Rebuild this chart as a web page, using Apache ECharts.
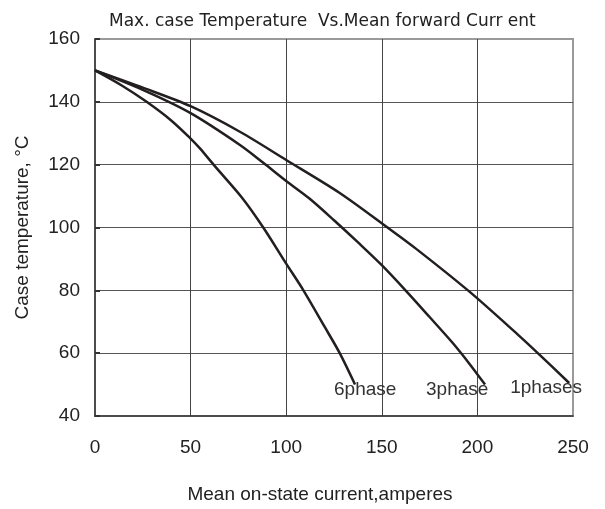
<!DOCTYPE html>
<html>
<head>
<meta charset="utf-8">
<script src="https://cdn.jsdelivr.net/npm/echarts@6/dist/echarts.min.js"></script>
<style>
	html, body { margin: 0; padding: 0; background: #fff; }
	#main { width: 605px; height: 509px; }
</style>
</head>
<body>
<div id="main"></div>
<script>
// curves: current (A) vs case temperature (C)
var x6 = [0, 14, 27, 40, 50, 55, 62, 77, 88, 100, 109, 120, 128, 136];
var y6 = [150, 145.2, 140, 134, 128.3, 125.1, 120, 109.4, 100, 88.5, 80, 68.5, 60, 50];
var x3 = [0, 25, 50, 76, 88, 100, 112, 125, 138, 150, 163, 175, 187, 196, 204];
var y3 = [150, 143.8, 136.4, 126.2, 120.6, 114.8, 109.3, 102.3, 95, 88, 79.6, 71.5, 63.3, 56.5, 50];
var x1 = [0, 25, 50, 76, 100, 128, 153, 168, 196, 221, 232, 248];
var y1 = [150, 144.5, 138.6, 130.4, 121.5, 111, 100, 93.2, 79.5, 66, 59.8, 50.5];
var names = ['6phase', '3phase', '1phases'];
var xTicks = [0, 250, 50];
var yTicks = [40, 160, 20];

var font = 'Liberation Sans, Arial, sans-serif';
var ink = '#231f20';

function pairs(xs, ys) {
	var out = [];
	for (var i = 0; i < xs.length; i++) {
		out.push([xs[i], ys[i]]);
	}
	return out;
}

function curve(name, xs, ys, dx) {
	return {
		name: name,
		type: 'line',
		data: pairs(xs, ys),
		smooth: 0.3,
		showSymbol: false,
		lineStyle: {color: ink, width: 2.5},
		endLabel: {
			show: true,
			formatter: '{a}',
			offset: [dx, 5],
			fontFamily: font,
			fontSize: 19,
			color: '#333'
		}
	};
}

var myChart = echarts.init(document.getElementById('main'));
var option = {
	animation: false,
	backgroundColor: '#fff',
	title: {
		text: 'Max. case Temperature  Vs.Mean forward Curr ent',
		left: 104,
		top: 8,
		textStyle: {fontFamily: 'DejaVu Sans, sans-serif', fontSize: 17, fontWeight: 'normal', color: '#222'}
	},
	grid: {
		left: 95,
		right: 32,
		top: 39,
		bottom: 89,
		show: true,
		borderColor: '#9a9a9a',
		borderWidth: 2
	},
	xAxis: {
		type: 'value',
		min: xTicks[0],
		max: xTicks[1],
		interval: xTicks[2],
		name: 'Mean on-state current,amperes',
		nameLocation: 'middle',
		nameGap: 69,
		nameTextStyle: {fontFamily: font, fontSize: 19, color: '#222', padding: [0, 28, 0, 0]},
		axisLine: {lineStyle: {color: '#333', width: 1.5}},
		axisTick: {show: false},
		axisLabel: {fontFamily: font, fontSize: 19, color: '#222', margin: 22},
		splitLine: {show: true, showMinLine: false, showMaxLine: false, lineStyle: {color: '#444', width: 1}}
	},
	yAxis: {
		type: 'value',
		min: yTicks[0],
		max: yTicks[1],
		interval: yTicks[2],
		name: 'Case temperature, °C',
		nameLocation: 'middle',
		nameGap: 63,
		nameTextStyle: {fontFamily: font, fontSize: 19, color: '#222'},
		axisLine: {show: true, lineStyle: {color: '#333', width: 1.5}},
		axisTick: {show: true, inside: true, length: 5, lineStyle: {color: '#333', width: 2}},
		axisLabel: {fontFamily: font, fontSize: 19, color: '#222', margin: 15},
		splitLine: {show: true, showMinLine: false, showMaxLine: false, lineStyle: {color: '#555', width: 1}}
	},
	series: [
		curve(names[0], x6, y6, -29),
		curve(names[1], x3, y3, -67),
		curve(names[2], x1, y1, -67)
	]
};
myChart.setOption(option, true);
</script>
</body>
</html>
